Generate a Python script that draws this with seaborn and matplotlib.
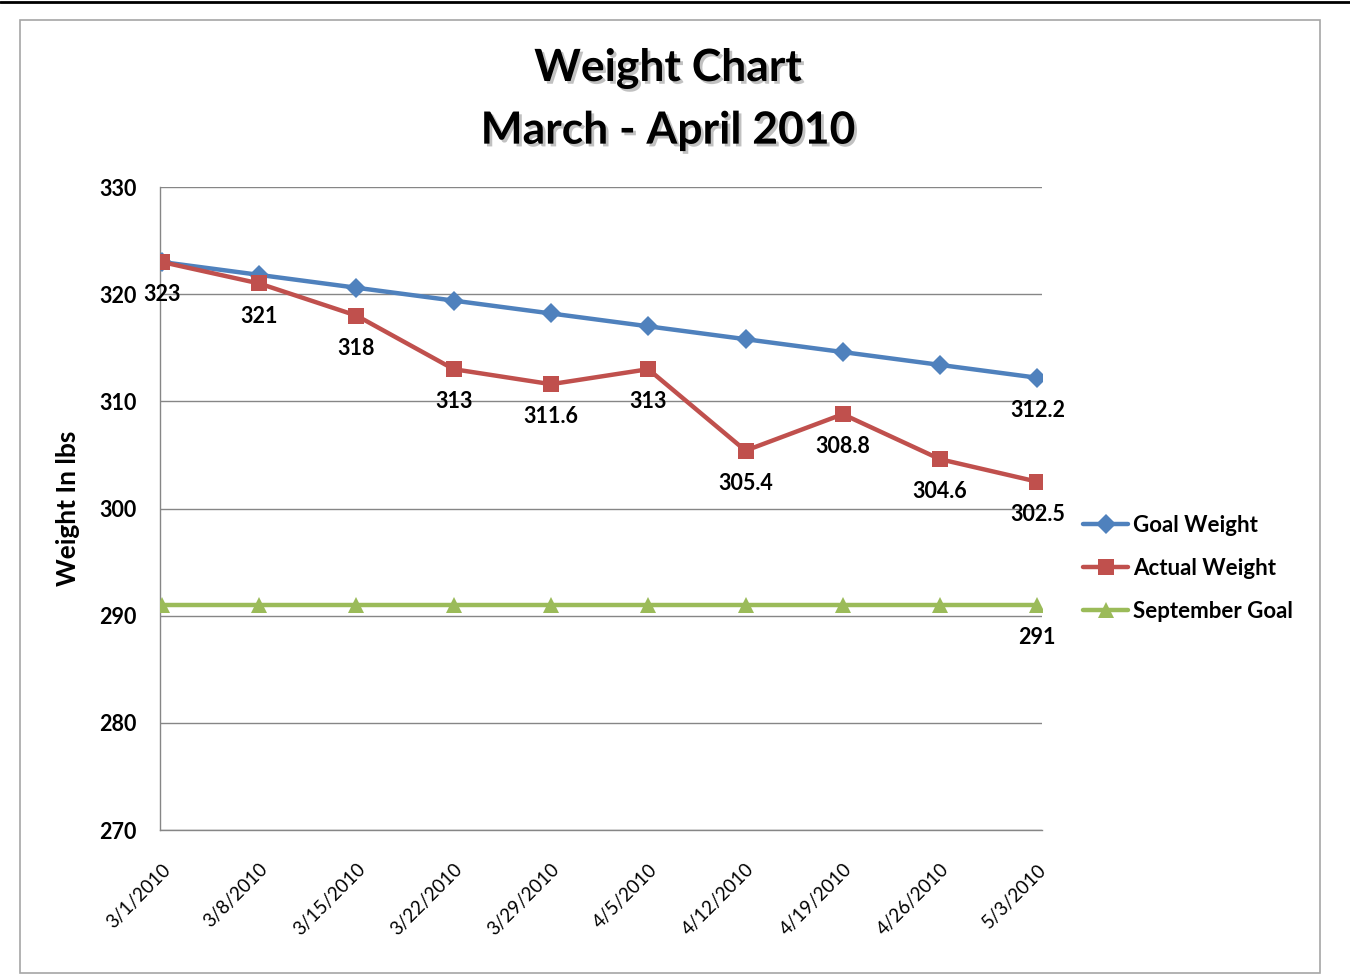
import numpy as np
import pandas as pd
import seaborn as sns
import matplotlib.pyplot as plt
import matplotlib.patheffects as pe
from matplotlib.lines import Line2D
from matplotlib.patches import Rectangle

dates = ["3/1/2010", "3/8/2010", "3/15/2010", "3/22/2010", "3/29/2010",
         "4/5/2010", "4/12/2010", "4/19/2010", "4/26/2010", "5/3/2010"]
goal = [323, 321.8, 320.6, 319.4, 318.2, 317.0, 315.8, 314.6, 313.4, 312.2]
actual = [323, 321, 318, 313, 311.6, 313, 305.4, 308.8, 304.6, 302.5]
september = [291] * 10

yticks = [270, 280, 290, 300, 310, 320, 330]

sns.set_theme(style="white")
plt.rcParams['font.family'] = ['Lato', 'DejaVu Sans']
plt.rcParams['text.color'] = 'black'
plt.rcParams['xtick.color'] = 'black'
plt.rcParams['ytick.color'] = 'black'
plt.rcParams['axes.labelcolor'] = 'black'

fig = plt.figure(figsize=(13.5, 9.75), dpi=100)
ax = fig.add_axes([0.1185, 0.1487, 0.6535, 0.6595])

pos = np.arange(len(dates))
df = pd.DataFrame({"pos": pos, "goal": goal, "actual": actual, "sep": september})

series = [("goal", "Goal Weight", "#4F81BD", "D", 10),
          ("actual", "Actual Weight", "#C0504D", "s", 11),
          ("sep", "September Goal", "#9BBB59", "^", 11)]
handles = []
for col, name, color, mk, ms in series:
    sns.lineplot(data=df, x="pos", y=col, ax=ax, color=color, lw=3.2,
                 marker=mk, markersize=ms, markeredgewidth=0, zorder=3)
    handles.append(Line2D([0], [0], color=color, lw=3.2, marker=mk,
                          markersize=ms, markeredgewidth=0, label=name))

# data labels
lab = dict(xytext=(0, -16), textcoords="offset points", ha="center",
           va="top", fontsize=15.5, fontweight="bold")
for x, v in zip(pos, actual):
    ax.annotate(f"{v:g}", (x, v), **lab)
ax.annotate(f"{goal[-1]:g}", (pos[-1], goal[-1]), **lab)
ax.annotate(f"{september[-1]:g}", (pos[-1], september[-1]), **lab)

ax.set_ylim(270, 330)
ax.set_yticks(yticks)
ax.set_yticklabels([str(t) for t in yticks], fontsize=15.5, fontweight="bold")
ax.set_xlim(-0.02, 9.05)
ax.set_xticks(pos)
ax.set_xticklabels(dates, rotation=45, ha="right", rotation_mode="anchor",
                   fontsize=13.5)
ax.tick_params(axis="y", length=0, pad=17)
ax.tick_params(axis="x", length=0, pad=22)
ax.set_xlabel("")
ax.set_ylabel("Weight In lbs", fontsize=19, fontweight="bold", labelpad=14)
ax.yaxis.grid(True, color="#868686", lw=1)
ax.set_axisbelow(True)
for s in ["top", "right"]:
    ax.spines[s].set_visible(False)
for s in ["left", "bottom"]:
    ax.spines[s].set_color("#868686")
    ax.spines[s].set_linewidth(1)

ax.legend(handles=handles, loc="center left", bbox_to_anchor=(1.024, 0.407),
          frameon=False, prop={"weight": "bold", "size": 16},
          handlelength=2.0, handletextpad=0.25, labelspacing=0.98)

shadow = [pe.withSimplePatchShadow(offset=(2, -2), shadow_rgbFace="#999999", alpha=0.6)]
fig.text(0.495, 0.930, "Weight Chart", ha="center", va="center", fontsize=32,
         fontweight="bold", path_effects=shadow)
fig.text(0.495, 0.866, "March - April 2010", ha="center", va="center",
         fontsize=32, fontweight="bold", path_effects=shadow)

# outer chart frame and top rule
fig.patches.append(Rectangle((20 / 1350, 2 / 975), 1300 / 1350, 953 / 975,
                             transform=fig.transFigure, fill=False,
                             edgecolor="#A6A6A6", lw=1.2))
fig.add_artist(Line2D([0, 1], [0.998, 0.998], transform=fig.transFigure,
                      color="black", lw=2))

fig.savefig("out.png", dpi=100)
